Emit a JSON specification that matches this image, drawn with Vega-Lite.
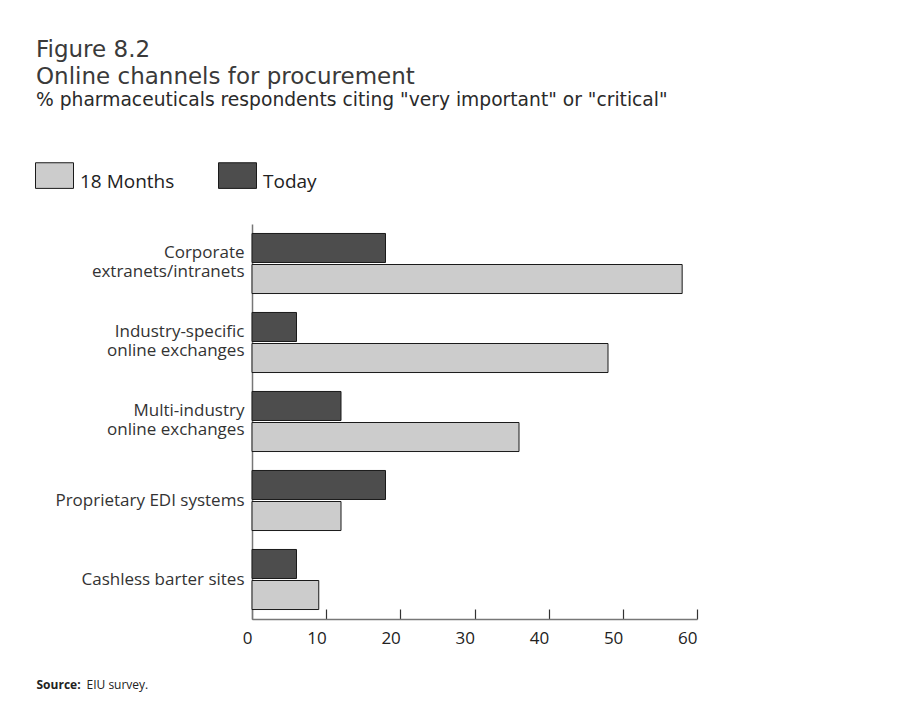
{
  "$schema": "https://vega.github.io/schema/vega-lite/v6.json",
  "autosize": {"type": "none"},
  "width": 445,
  "height": 395,
  "padding": {"left": 252, "top": 224, "right": 222, "bottom": 88},
  "background": "white",
  "title": {
    "text": ["Figure 8.2", "Online channels for procurement"],
    "subtitle": "% pharmaceuticals respondents citing \"very important\" or \"critical\"",
    "anchor": "start",
    "frame": "group",
    "dx": -216,
    "offset": 52,
    "font": "DejaVu Sans",
    "fontSize": 23,
    "fontWeight": "normal",
    "lineHeight": 27,
    "color": "#3a3a3a",
    "subtitleFont": "DejaVu Sans",
    "subtitleFontSize": 18.7,
    "subtitleColor": "#2a2a2a",
    "subtitlePadding": 2
  },
  "data": {
    "values": [
      {"channel": "Corporate extranets/intranets", "period": "Today", "pct": 18},
      {"channel": "Corporate extranets/intranets", "period": "18 Months", "pct": 58},
      {"channel": "Industry-specific online exchanges", "period": "Today", "pct": 6},
      {"channel": "Industry-specific online exchanges", "period": "18 Months", "pct": 48},
      {"channel": "Multi-industry online exchanges", "period": "Today", "pct": 12},
      {"channel": "Multi-industry online exchanges", "period": "18 Months", "pct": 36},
      {"channel": "Proprietary EDI systems", "period": "Today", "pct": 18},
      {"channel": "Proprietary EDI systems", "period": "18 Months", "pct": 12},
      {"channel": "Cashless barter sites", "period": "Today", "pct": 6},
      {"channel": "Cashless barter sites", "period": "18 Months", "pct": 9}
    ]
  },
  "mark": {"type": "bar", "stroke": "#1a1a1a", "strokeWidth": 1},
  "encoding": {
    "y": {
      "field": "channel",
      "type": "nominal",
      "sort": null,
      "scale": {"paddingInner": 0.24, "paddingOuter": 0.12},
      "axis": {
        "title": "Source:",
        "titleAngle": 0,
        "titleX": -216,
        "titleY": 464,
        "titleAlign": "left",
        "titleBaseline": "alphabetic",
        "titleFont": "Open Sans",
        "titleFontSize": 12,
        "titleFontWeight": "bold",
        "titleColor": "#222222",
        "ticks": false,
        "domainColor": "#777777",
        "domainWidth": 1.5,
        "labelFont": "Open Sans",
        "labelFontSize": 17,
        "labelColor": "#333333",
        "labelPadding": 8,
        "labelLimit": 260,
        "labelLineHeight": 19,
        "labelOffset": {"condition": {"test": "length(datum.value) > 25", "value": -11}, "value": 0},
        "labelExpr": "datum.value == 'Corporate extranets/intranets' ? ['Corporate', 'extranets/intranets'] : datum.value == 'Industry-specific online exchanges' ? ['Industry-specific', 'online exchanges'] : datum.value == 'Multi-industry online exchanges' ? ['Multi-industry', 'online exchanges'] : datum.value"
      }
    },
    "yOffset": {
      "field": "period",
      "type": "nominal",
      "sort": ["Today", "18 Months"],
      "scale": {"paddingInner": 0.065, "paddingOuter": 0}
    },
    "x": {
      "field": "pct",
      "type": "quantitative",
      "scale": {"domain": [0, 60], "nice": false},
      "axis": {
        "title": "EIU survey.",
        "titleX": -166,
        "titleY": 69,
        "titleAlign": "left",
        "titleBaseline": "alphabetic",
        "titleFont": "Open Sans",
        "titleFontSize": 12,
        "titleFontWeight": "normal",
        "titleColor": "#222222",
        "values": [0, 10, 20, 30, 40, 50, 60],
        "grid": false,
        "tickSize": -10,
        "tickColor": "#333333",
        "tickWidth": 1.2,
        "domainColor": "#777777",
        "domainWidth": 1.5,
        "labelAlign": "right",
        "labelFont": "Open Sans",
        "labelFontSize": 17,
        "labelColor": "#222222",
        "labelPadding": 29,
        "labelBaseline": "middle"
      }
    },
    "color": {
      "field": "period",
      "type": "nominal",
      "scale": {"domain": ["18 Months", "Today"], "range": ["#cccccc", "#4d4d4d"]},
      "legend": {
        "title": null,
        "orient": "none",
        "direction": "horizontal",
        "legendX": -217,
        "legendY": -62,
        "symbolType": "M-1,-1H1V0.35H-1Z",
        "symbolSize": 1444,
        "symbolStrokeColor": "#1a1a1a",
        "symbolStrokeWidth": 1,
        "symbolOpacity": 1,
        "labelFont": "Open Sans",
        "labelFontSize": 19,
        "labelColor": "#222222",
        "labelOffset": 6,
        "columnPadding": 41
      }
    }
  },
  "config": {
    "view": {"stroke": null}
  }
}
